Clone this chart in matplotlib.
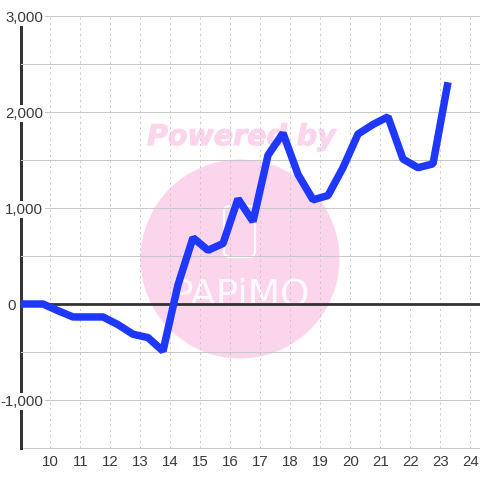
import matplotlib
matplotlib.use("Agg")
import matplotlib.pyplot as plt
import matplotlib.patheffects as pe
from matplotlib.patches import Circle, FancyBboxPatch
from matplotlib.ticker import FuncFormatter

hours = [9.0, 9.75, 10.25, 10.75, 11.25, 11.75, 12.25, 12.75, 13.25, 13.75, 14.25, 14.75, 15.25, 15.75,
         16.25, 16.75, 17.25, 17.75, 18.25, 18.75, 19.25, 19.75, 20.25, 20.75, 21.25, 21.75, 22.25, 22.75, 23.25]
values = [0, 0, -70, -135, -135, -135, -215, -315, -350, -490, 200, 690, 560, 630,
          1095, 860, 1550, 1780, 1350, 1085, 1130, 1420, 1770, 1870, 1950, 1510, 1420, 1460, 2310]
x_ticks = list(range(10, 25))
y_major = [-1000, 0, 1000, 2000, 3000]
y_minor = [-1500, -500, 500, 1500, 2500]

plt.rcParams['font.family'] = ['Liberation Sans', 'DejaVu Sans']
GRID = '#c8c8c8'
DARK = '#333333'
PINK = '#fbd5ec'
BLUE = '#1f38ff'
LABEL = '#3a3a3a'
PX = 72 / 100
fig = plt.figure(figsize=(4.8, 4.8), dpi=100, facecolor='white')
ax = fig.add_axes([20.5/480, 1-448/480, (480-20.5)/480, (448-16)/480])
ax.patch.set_alpha(0)
ax.set_xlim(9.0, 24.317)
ax.set_ylim(-1500, 3000)

# watermark, behind the axes
fig.add_artist(Circle((240/480, 1-259/480), 99.5/480, transform=fig.transFigure, fc=PINK, ec='none', zorder=-5))
fig.text(241.5/480, 1-145/480, 'Powered by', color=PINK, fontsize=20.5, fontweight='bold', style='italic',
         ha='center', va='baseline', family=['DejaVu Sans'], zorder=-4,
         path_effects=[pe.withStroke(linewidth=0.8, foreground=PINK)])
fig.add_artist(FancyBboxPatch((224/480, 1-257/480), 31/480, 51/480, boxstyle='round,pad=0,rounding_size=0.012',
                              transform=fig.transFigure, fc='none', ec='white', lw=1.6, zorder=-4))
fig.text(240/480, 1-305/480, 'PAPiMO', color='white', fontsize=27, ha='center', va='baseline', alpha=0.85,
         family=['Liberation Sans Narrow', 'DejaVu Sans'], zorder=-4)

ax.set_xticks(x_ticks)
ax.set_yticks(y_major)
ax.set_yticks(y_minor, minor=True)
ax.yaxis.set_major_formatter(FuncFormatter(lambda v, p: '' if v == 0 else f'{int(v):,}'))
ax.grid(axis='x', color=GRID, lw=1*PX, ls=(0, (2, 3.5)))
ax.grid(axis='y', which='both', color=GRID, lw=1*PX)
ax.tick_params(axis='both', which='both', length=0, labelsize=10.8, colors=LABEL)
ax.tick_params(axis='y', pad=-22.5*PX)
ax.tick_params(axis='x', pad=5)
for s in ['top', 'right', 'bottom']:
    ax.spines[s].set_visible(False)
ax.spines['left'].set_color(DARK)
ax.spines['left'].set_linewidth(3*PX)
ax.spines['left'].set_zorder(1.5)
fig.canvas.draw()
for lab in ax.get_yticklabels():
    if lab.get_text():
        lab.set_bbox(dict(fc='white', ec='none', pad=1.2))
ax.yaxis.set_zorder(2.2)
ax.xaxis.set_zorder(2.2)
ax.axhline(0, color=DARK, lw=2.8*PX, zorder=2.3)
ax.axhline(-1500, color=GRID, lw=1*PX, zorder=1, clip_on=False)
ax.annotate('0', xy=(9.0, 0), xytext=(-4.5*PX, 0), textcoords='offset points', ha='right', va='center_baseline',
            fontsize=10.8, color=LABEL, annotation_clip=False)
l, = ax.plot(hours, values, color=BLUE, lw=7.5*PX, solid_joinstyle='bevel', solid_capstyle='butt', zorder=3)
l.set_clip_on(False)
fig.savefig('out.png', dpi=100)
